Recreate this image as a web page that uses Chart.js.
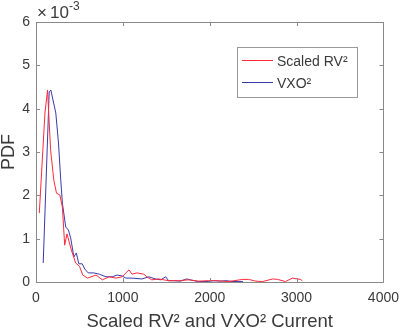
<!DOCTYPE html>
<html><head><meta charset="utf-8">
<script src="https://cdn.jsdelivr.net/npm/chart.js@4"></script>
<style>html,body{margin:0;padding:0;background:#fff;overflow:hidden}</style>
</head><body>
<canvas id="c" width="407" height="333"></canvas>
<script>
// ---- data (PDF values in units of 1e-3) ----
const rvX = [38,103,133,168,205,236,274,304,330,357,407,456,501,539,593,692,764,843,920,991,1071,1105,1162,1242,1276,1333,1413,1527,1641,1755,1869,1983,2097,2211,2382,2447,2530,2610,2724,2781,2872,2952,3009,3043,3066];
const rvY = [1.59,3.90,4.43,3.05,2.35,2.05,2.01,1.73,0.85,1.11,0.74,0.44,0.36,0.16,0.09,0.16,0.05,0.12,0.09,0.12,0.28,0.18,0.21,0.18,0.12,0.05,0.07,0.03,0.03,0.05,0.02,0.03,0.03,0.01,0.06,0.06,0.02,0.01,0.07,0.06,0.01,0.09,0.07,0.06,0.03];
const vxoX = [83,152,171,228,259,285,304,342,373,399,436,464,493,532,562,601,664,729,806,877,934,991,1034,1105,1219,1299,1375,1436,1493,1527,1584,1664,1732,1778,1869,1983,2040,2120,2188,2268,2382];
const vxoY = [0.44,4.39,4.43,3.90,3.21,2.35,1.82,1.27,1.20,1.02,0.58,0.67,0.42,0.42,0.30,0.21,0.21,0.18,0.12,0.12,0.16,0.14,0.09,0.09,0.07,0.12,0.07,0.05,0.12,0.03,0.03,0.02,0.07,0.05,0.01,0.01,0.03,0.02,0.03,0.01,0.01];
const xTicks = [0,1000,2000,3000,4000];
const yTicks = [0,1,2,3,4,5,6];
const seriesLabels = ['Scaled RV\u00B2','VXO\u00B2'];
const xTitle = 'Scaled RV\u00B2 and VXO\u00B2 Current';
const yTitle = 'PDF';
const yExpTimes = '\u00D7';
const yExpBase = '10';
const yExpPow = '-3';

const FONT = "'Liberation Sans', Arial, Helvetica, sans-serif";
const TXT = '#3a3a3a';
const AX = '#8a8a8a';
const RED = '#ff2a3a';
const BLUE = '#3a3aa8';

const boxPlugin = {
  id: 'boxPlugin',
  afterDatasetsDraw(chart) {
    const {ctx, chartArea: a, scales: {x, y}} = chart;
    ctx.save();
    ctx.strokeStyle = AX; ctx.lineWidth = 1;
    ctx.beginPath();
    ctx.rect(Math.round(a.left) + 0.5, Math.round(a.top) + 0.5, Math.round(a.right - a.left), Math.round(a.bottom - a.top));
    ctx.stroke();
    const tl = 4;
    ctx.beginPath();
    xTicks.forEach(v => {
      const px = Math.round(x.getPixelForValue(v)) + 0.5;
      ctx.moveTo(px, a.bottom); ctx.lineTo(px, a.bottom - tl);
      ctx.moveTo(px, a.top); ctx.lineTo(px, a.top + tl);
    });
    yTicks.forEach(v => {
      const py = Math.round(y.getPixelForValue(v)) + 0.5;
      ctx.moveTo(a.left, py); ctx.lineTo(a.left + tl, py);
      ctx.moveTo(a.right, py); ctx.lineTo(a.right - tl, py);
    });
    ctx.stroke();
    // exponent label
    ctx.fillStyle = TXT;
    ctx.textBaseline = 'alphabetic';
    ctx.font = '17px ' + FONT;
    ctx.fillText(yExpTimes, a.left + 1, a.top - 4);
    ctx.fillText(yExpBase, a.left + 14, a.top - 4);
    const w = ctx.measureText(yExpBase).width;
    ctx.font = '12px ' + FONT;
    ctx.fillText(yExpPow, a.left + 14 + w, a.top - 12);
    // legend
    const L = {x: 237.5, y: 47.5, w: 120, h: 50};
    ctx.fillStyle = '#fff';
    ctx.fillRect(L.x, L.y, L.w, L.h);
    ctx.strokeStyle = '#9a9a9a';
    ctx.strokeRect(L.x, L.y, L.w, L.h);
    const rows = [60, 82];
    chart.data.datasets.forEach((ds, i) => {
      ctx.strokeStyle = ds.borderColor; ctx.lineWidth = 1;
      ctx.beginPath(); ctx.moveTo(242, rows[i] + 0.5); ctx.lineTo(273, rows[i] + 0.5); ctx.stroke();
      ctx.fillStyle = TXT;
      ctx.font = '14px ' + FONT;
      ctx.textBaseline = 'middle';
      ctx.fillText(ds.label, 277, rows[i] + 2);
    });
    ctx.restore();
  }
};

new Chart(document.getElementById('c'), {
  type: 'line',
  data: {
    datasets: [
      {label: seriesLabels[0], data: rvX.map((v, i) => ({x: v, y: rvY[i]})), borderColor: RED, borderWidth: 1, pointRadius: 0, tension: 0, fill: false},
      {label: seriesLabels[1], data: vxoX.map((v, i) => ({x: v, y: vxoY[i]})), borderColor: BLUE, borderWidth: 1, pointRadius: 0, tension: 0, fill: false}
    ]
  },
  options: {
    responsive: false,
    animation: false,
    layout: {padding: {top: 22, right: 20, left: 0, bottom: 0}},
    plugins: {legend: {display: false}, tooltip: {enabled: false}},
    scales: {
      x: {
        type: 'linear', min: 0, max: 4000,
        afterBuildTicks: s => { s.ticks = xTicks.map(v => ({value: v})); },
        afterFit: s => { s.height = 51; },
        grid: {display: false, drawTicks: false},
        border: {display: false},
        ticks: {padding: 8, color: TXT, font: {family: FONT, size: 14}, maxRotation: 0, callback: v => String(v)},
        title: {display: true, text: xTitle, color: TXT, font: {family: FONT, size: 18.5, lineHeight: 1.2}, padding: {top: 0, bottom: 0}}
      },
      y: {
        type: 'linear', min: 0, max: 6,
        afterBuildTicks: s => { s.ticks = yTicks.map(v => ({value: v})); },
        afterFit: s => { s.width = 36; },
        grid: {display: false, drawTicks: false},
        border: {display: false},
        ticks: {padding: 6, color: TXT, font: {family: FONT, size: 14}, callback: v => String(v)},
        title: {display: true, text: yTitle, color: TXT, font: {family: FONT, size: 18, lineHeight: 1.0}, padding: {top: 0, bottom: 0}}
      }
    }
  },
  plugins: [boxPlugin]
});
</script>
</body></html>
